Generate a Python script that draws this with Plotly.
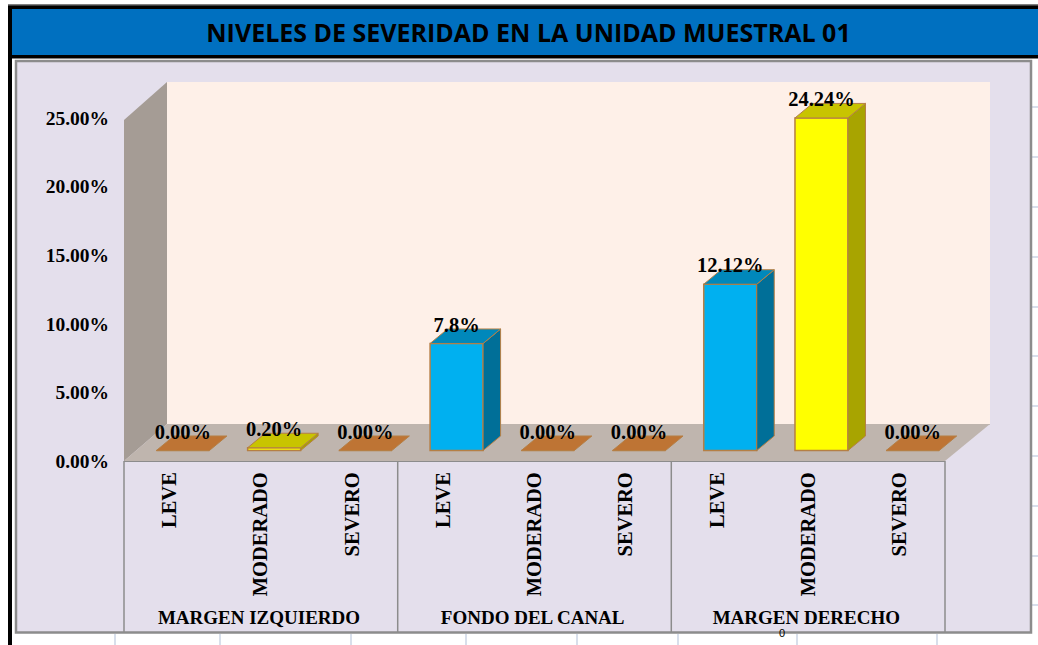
import plotly.graph_objects as go

W, H = 1038, 645

# ---- data ----
title_text = "NIVELES DE SEVERIDAD EN LA UNIDAD MUESTRAL 01"
groups = ["MARGEN IZQUIERDO", "FONDO DEL CANAL", "MARGEN DERECHO"]
levels = ["LEVE", "MODERADO", "SEVERO"]
categories = levels * 3
values = [0.0, 0.20, 0.0, 7.8, 0.0, 0.0, 12.12, 24.24, 0.0]
value_labels = ["0.00%", "0.20%", "0.00%", "7.8%", "0.00%", "0.00%", "12.12%", "24.24%", "0.00%"]
y_ticks = [0, 5, 10, 15, 20, 25]

# ---- scales: pixel <-> data (front plane) ----
X0_PX, X1_PX = 124.0, 945.0
Y0_PX, Y25_PX = 461.0, 118.0
SLOT = (X1_PX - X0_PX) / 9
UNIT = (Y0_PX - Y25_PX) / 25


def xd(px):
    return (px - X0_PX) / SLOT - 0.5


def yd(py):
    return (Y0_PX - py) / UNIT


def pfx(px):
    return px / W


def pfy(py):
    return 1 - py / H


# ---- styles ----
SERIF = "Liberation Serif"
BAR_W = 53 / SLOT
BAR_SHIFT = 13.3 / SLOT
BASE = 10.5 / UNIT
DEPTH_X = 17.5 / SLOT
DEPTH_Y = 14.5 / UNIT
LABEL_UP = 17 / UNIT
EDGE = "#B57F45"
front = {"LEVE": "#00B0F0", "MODERADO": "#FFFF00", "SEVERO": "#FF0000"}
side = {"LEVE": "#006F98", "MODERADO": "#A8A400", "SEVERO": "#A00000"}
top = {"LEVE": "#0088BB", "MODERADO": "#C8C400", "SEVERO": "#C00000"}
ZERO_TOP = "#BE7434"

fig = go.Figure()

# front faces through the library's bars
xs = [i + BAR_SHIFT for i in range(len(values))]
fig.add_trace(go.Bar(
    x=xs, y=values, base=BASE, width=BAR_W,
    marker=dict(color=[front[c] for c in categories], line=dict(color=EDGE, width=1.5)),
    showlegend=False, hoverinfo="skip",
))

# depth faces derived from the same values
for xc, v, c in zip(xs, values, categories):
    l, r = xc - BAR_W / 2, xc + BAR_W / 2
    t = BASE + v
    if v > 0:
        fig.add_trace(go.Scatter(
            x=[r, r + DEPTH_X, r + DEPTH_X, r, r],
            y=[BASE, BASE + DEPTH_Y, t + DEPTH_Y, t, BASE],
            mode="lines", fill="toself", fillcolor=side[c],
            line=dict(color=EDGE, width=1), showlegend=False, hoverinfo="skip"))
    fig.add_trace(go.Scatter(
        x=[l, r, r + DEPTH_X, l + DEPTH_X, l],
        y=[t, t, t + DEPTH_Y, t + DEPTH_Y, t],
        mode="lines", fill="toself", fillcolor=top[c] if v > 0 else ZERO_TOP,
        line=dict(color=EDGE, width=1), showlegend=False, hoverinfo="skip"))

# value labels
fig.add_trace(go.Scatter(
    x=xs, y=[BASE + v + LABEL_UP for v in values], text=value_labels,
    mode="text", textposition="middle center",
    textfont=dict(family=SERIF, size=20.5, color="#000000", weight=700),
    showlegend=False, hoverinfo="skip"))

# group labels
fig.add_trace(go.Scatter(
    x=[0.98, 3.98, 6.98], y=[yd(619)] * 3, text=groups,
    mode="text", textposition="middle center",
    textfont=dict(family=SERIF, size=19, color="#000000", weight=700),
    showlegend=False, hoverinfo="skip"))


def rect(x0, y0, x1, y1, fill, line=None, lw=0):
    return dict(type="rect", xref="paper", yref="paper", layer="below",
                x0=pfx(x0), x1=pfx(x1), y0=pfy(y0), y1=pfy(y1),
                fillcolor=fill, line=dict(color=line or fill, width=lw))


def poly(pts, fill, line=None, lw=0):
    path = "M " + " L ".join(f"{xd(a):.4f},{yd(b):.4f}" for a, b in pts) + " Z"
    return dict(type="path", xref="x", yref="y", layer="below", path=path,
                fillcolor=fill, line=dict(color=line or fill, width=lw))


def seg(x0, y0, x1, y1, color, lw):
    return dict(type="line", xref="paper", yref="paper", layer="below",
                x0=pfx(x0), x1=pfx(x1), y0=pfy(y0), y1=pfy(y1),
                line=dict(color=color, width=lw))


shapes = []
# stray worksheet gridline marks outside the panel
for bx in [115, 220, 351, 466, 577, 678, 797, 937]:
    shapes.append(seg(bx, 634, bx, 645, "#CBD5E5", 1.5))
for ry in [107, 157, 207, 257, 307, 356, 406, 456, 506, 556, 605]:
    shapes.append(seg(1032, ry, 1038, ry, "#CBD5E5", 1.5))
# title band and frame
shapes.append(rect(8, 5, 1038, 58.5, "#000000"))
shapes.append(rect(8, 4, 1038, 5.5, "#7F7F7F"))
shapes.append(rect(12, 9, 1038, 55, "#0070C0"))
shapes.append(rect(8, 58, 12, 645, "#000000"))
# chart panel
shapes.append(rect(16, 61, 1031, 632.5, "#E4DFEC", "#8C8C8C", 2.5))
# 3-D walls
shapes.append(poly([(167, 82), (990, 82), (990, 424), (167, 424)], "#FEF0E8"))
shapes.append(poly([(124, 461), (124, 120), (167, 82), (167, 424)], "#A59C95"))
shapes.append(poly([(124, 461), (167, 424), (990, 424), (945, 461)], "#BFB5AE"))
shapes.append(seg(167, 424, 990, 424, "#ABA29C", 1))
# category frame
shapes.append(seg(124, 461, 945, 461, "#8C8C8C", 2))
for dx in [124, 397.7, 671.3, 945]:
    shapes.append(seg(dx, 461, dx, 632, "#8C8C8C", 1.5))

fig.update_layout(
    width=W, height=H,
    margin=dict(l=0, r=0, t=0, b=0),
    paper_bgcolor="#FFFFFF", plot_bgcolor="rgba(0,0,0,0)",
    showlegend=False, barmode="overlay", shapes=shapes,
    title=dict(text=title_text, x=528.5 / W, xanchor="center",
               y=1 - 33 / H, yanchor="middle",
               font=dict(family="Open Sans", size=25, color="#000000", weight=700)),
    annotations=[dict(text="0", xref="paper", yref="paper", x=pfx(786), y=pfy(640),
                      showarrow=False, borderpad=0,
                      font=dict(family="Liberation Sans", size=11, color="#000000"))],
    xaxis=dict(
        range=[xd(0), xd(W)], domain=[0, 1], anchor="free", position=pfy(Y0_PX),
        tickmode="array", tickvals=list(range(9)), ticktext=categories, tickangle=-90,
        ticks="outside", ticklen=2, tickcolor="rgba(0,0,0,0)",
        tickfont=dict(family=SERIF, size=20.5, color="#000000", weight=700),
        showgrid=False, zeroline=False, showline=False,
    ),
    yaxis=dict(
        range=[yd(H), yd(0)], domain=[0, 1], anchor="free", position=pfx(X0_PX),
        tickmode="array", tickvals=y_ticks,
        ticktext=[f"{t:.2f}%" for t in y_ticks],
        ticks="outside", ticklen=11, tickcolor="rgba(0,0,0,0)",
        tickfont=dict(family=SERIF, size=19.5, color="#000000", weight=700),
        showgrid=False, zeroline=False, showline=False,
    ),
)

fig.write_html("out.html", config={"displayModeBar": False},
               post_script="document.body.style.margin='0';document.body.style.overflow='hidden';")
